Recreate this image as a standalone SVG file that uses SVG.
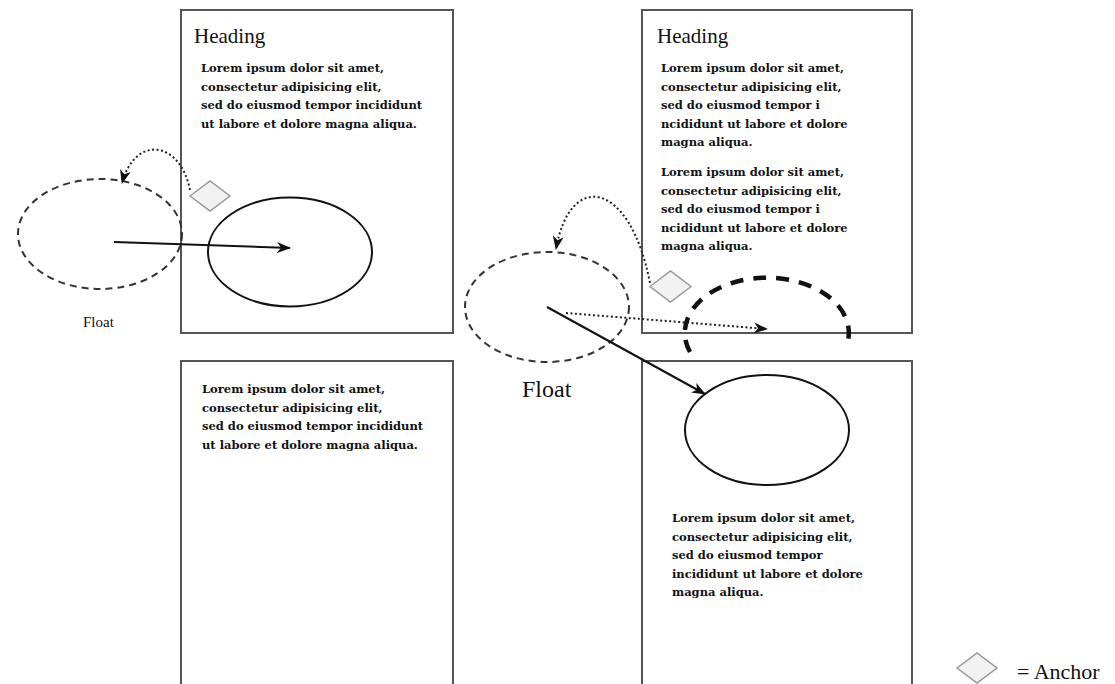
<svg xmlns="http://www.w3.org/2000/svg" width="1115" height="684" viewBox="0 0 1115 684">
<defs>
<style>
.box{fill:#fff;stroke:#555;stroke-width:2}
.h{font-family:"Liberation Serif",serif;font-size:21px;fill:#111}
.t{font-family:"DejaVu Serif",serif;font-size:11.5px;fill:#111;font-weight:bold}
.lbl{font-family:"Liberation Serif",serif;fill:#111}
.anchor{fill:#f2f2f2;stroke:#999;stroke-width:1.5}
.dashed{fill:none;stroke:#333;stroke-width:2;stroke-dasharray:7,5}
.solid{fill:none;stroke:#111;stroke-width:2}
.dot{fill:none;stroke:#222;stroke-width:2;stroke-dasharray:2,2.5}
.bold{fill:none;stroke:#111;stroke-width:4.5;stroke-dasharray:13,10}
</style>
<marker id="arr" viewBox="0 0 14 11" refX="13" refY="5.5" markerWidth="14" markerHeight="11" markerUnits="userSpaceOnUse" orient="auto">
<path d="M0,0 L14,5.5 L0,11 L4,5.5 Z" fill="#111"/>
</marker>
</defs>
<g id="page-left-top">
<rect class="box" x="181" y="10" width="272" height="323"/>
<text class="h" x="194" y="43">Heading</text>
<text class="t" x="201" y="72">Lorem ipsum dolor sit amet,</text>
<text class="t" x="201" y="90.5">consectetur adipisicing elit,</text>
<text class="t" x="201" y="109">sed do eiusmod tempor incididunt</text>
<text class="t" x="201" y="127.5">ut labore et dolore magna aliqua.</text>
</g>
<g id="page-left-bottom">
<rect class="box" x="181" y="361" width="272" height="340"/>
<text class="t" x="202" y="393">Lorem ipsum dolor sit amet,</text>
<text class="t" x="202" y="411.5">consectetur adipisicing elit,</text>
<text class="t" x="202" y="430">sed do eiusmod tempor incididunt</text>
<text class="t" x="202" y="448.5">ut labore et dolore magna aliqua.</text>
</g>
<g id="page-right-top">
<rect class="box" x="642" y="10" width="270" height="323"/>
<text class="h" x="657" y="43">Heading</text>
<text class="t" x="661" y="72">Lorem ipsum dolor sit amet,</text>
<text class="t" x="661" y="90.5">consectetur adipisicing elit,</text>
<text class="t" x="661" y="109">sed do eiusmod tempor i</text>
<text class="t" x="661" y="127.5">ncididunt ut labore et dolore</text>
<text class="t" x="661" y="146">magna aliqua.</text>
<text class="t" x="661" y="176">Lorem ipsum dolor sit amet,</text>
<text class="t" x="661" y="194.5">consectetur adipisicing elit,</text>
<text class="t" x="661" y="213">sed do eiusmod tempor i</text>
<text class="t" x="661" y="231.5">ncididunt ut labore et dolore</text>
<text class="t" x="661" y="250">magna aliqua.</text>
</g>
<g id="page-right-bottom">
<rect class="box" x="642" y="361" width="270" height="340"/>
<text class="t" x="672" y="522">Lorem ipsum dolor sit amet,</text>
<text class="t" x="672" y="540.5">consectetur adipisicing elit,</text>
<text class="t" x="672" y="559">sed do eiusmod tempor</text>
<text class="t" x="672" y="577.5">incididunt ut labore et dolore</text>
<text class="t" x="672" y="596">magna aliqua.</text>
</g>
<g id="float-left-origin">
<ellipse class="dashed" cx="100" cy="234" rx="82" ry="55"/>
<text class="lbl" x="83" y="327" font-size="15">Float</text>
</g>
<g id="float-left-target">
<ellipse class="solid" cx="290" cy="252" rx="82" ry="54.5"/>
</g>
<g id="anchor-left">
<polygon class="anchor" points="190,196 210,181 230,196 210,211"/>
</g>
<g id="float-right-origin">
<ellipse class="dashed" cx="547" cy="307" rx="82" ry="55"/>
<text class="lbl" x="522" y="397" font-size="24">Float</text>
</g>
<g id="float-right-intermediate">
<path class="bold" d="M690,352 A82,55 0 1 1 846,347"/>
</g>
<g id="float-right-target">
<ellipse class="solid" cx="767" cy="430" rx="82" ry="55"/>
</g>
<g id="anchor-right">
<polygon class="anchor" points="650,286.5 670.5,271 691,286.5 670.5,302"/>
</g>
<g id="legend">
<polygon class="anchor" points="957,668 977,653 997,668 977,683"/>
<text class="lbl" x="1017" y="679" font-size="22">= Anchor</text>
</g>
<g id="connectors">
<path class="solid" d="M114,242 L290,248" marker-end="url(#arr)"/>
<path class="dot" d="M190,190 C180,140 135,135 122,183" marker-end="url(#arr)"/>
<path class="solid" d="M547,307 L705,394" marker-end="url(#arr)"/>
<path class="dot" d="M566,313 L767,329" marker-end="url(#arr)"/>
<path class="dot" d="M650,283 C630,180 570,170 556,249" marker-end="url(#arr)"/>
</g>
</svg>
